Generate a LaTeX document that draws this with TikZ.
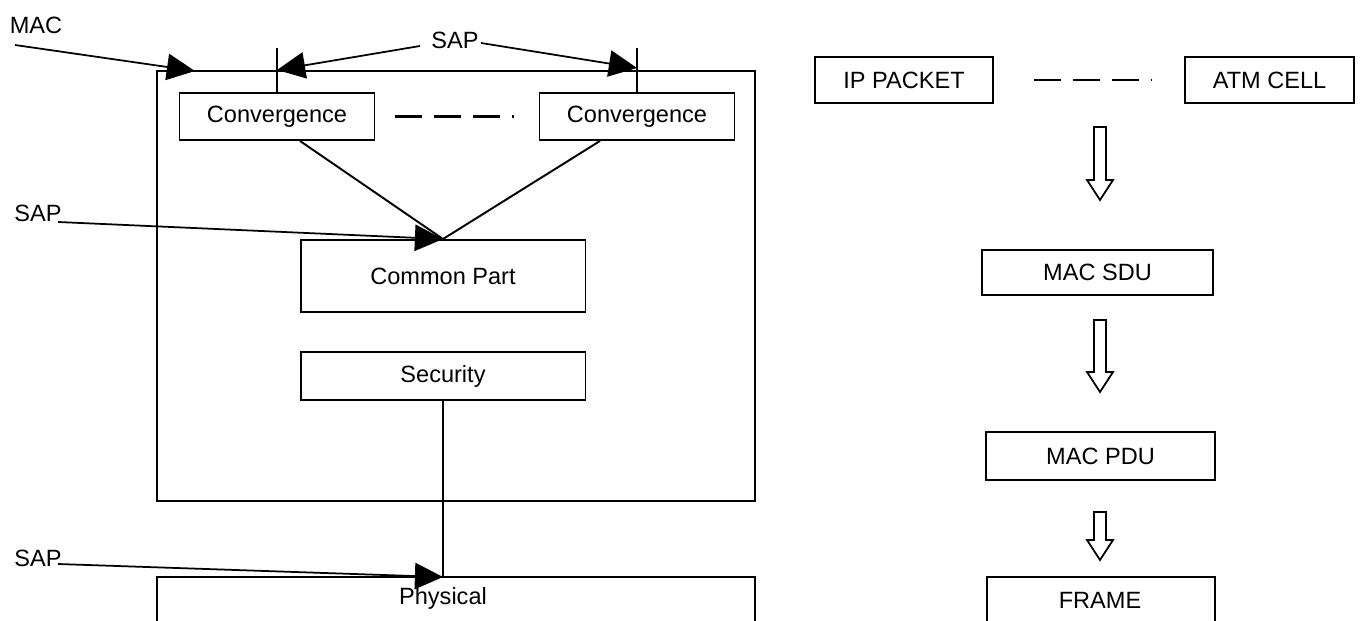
\documentclass[tikz,border=0pt]{standalone}
\usepackage{fontspec}
\setmainfont{Liberation Sans}
\usetikzlibrary{arrows.meta}

\newcommand{\px}{0.02cm}
\newcommand{\hollowarrow}[3]{\draw [line width = 1pt] (#1-6,#2) -- (#1+6,#2) -- (#1+6,#3-20) -- (#1+13,#3-20) -- (#1,#3) -- (#1-13,#3-20) -- (#1-6,#3-20) -- cycle;}

\begin{document}
\begin{tikzpicture}[x = \px, y = -\px, line width = 1.1pt,
  every node/.style = {font = \fontsize{13.4}{16}\selectfont, inner sep = 0pt},
  box/.style = {draw, rectangle},
  saparrow/.style = {line width = 1pt, -{Triangle[length = 16pt, width = 15pt]}},
  gapline/.style = {line width = 1.6pt, dash pattern = on 0.54cm off 0.24cm}]
\useasboundingbox (0,0) rectangle (1361,621);

% MAC layer
\draw (157,71) rectangle (755,501);
\node (mac) at (36,25) {MAC};
\node (sap1) at (455,40) {SAP};
\node (sap2) at (38,213) {SAP};
\node (sap3) at (38,558) {SAP};

\node [box, minimum width = 3.9cm, minimum height = 0.94cm] (c1) at (277,116.5) {Convergence};
\node [box, minimum width = 3.9cm, minimum height = 0.94cm] (c2) at (637,116.5) {Convergence};
\node [box, minimum width = 5.7cm, minimum height = 1.44cm] (cp) at (443,276) {Common Part};
\node [box, minimum width = 5.7cm, minimum height = 0.96cm] (sec) at (443,376) {Security};

\coordinate (t1) at (277,48);
\coordinate (t2) at (637,48);
\draw (t1) -- (c1.north);
\draw (t2) -- (c2.north);
\draw [gapline] ([xshift = 0.4cm]c1.east) -- ([xshift = -0.5cm]c2.west);
\draw ([xshift = 0.46cm]c1.south) -- (cp.north);
\draw ([xshift = -0.74cm]c2.south) -- (cp.north);

% SAP arrows
\coordinate (m0) at (15,45);
\coordinate (m1) at (195,71);
\coordinate (s1) at (420,46);
\coordinate (s2) at (481,43);
\coordinate (a1) at (277,70);
\coordinate (a2) at (637,68);
\coordinate (s3) at (58,222);
\coordinate (s4) at (58,564);
\coordinate (ph) at (443,577);
\draw [saparrow] (m0) -- (m1);
\draw [saparrow] (s1) -- (a1);
\draw [saparrow] (s2) -- (a2);
\draw [saparrow] (s3) -- (cp.north);
\draw (sec.south) -- (ph);
\draw [saparrow] (s4) -- (ph);

% physical layer
\draw (157,625) -- (157,577) -- (755,577) -- (755,625);
\node (phy) at (443,598) {Physical};

% data units
\node [box, minimum width = 3.56cm, minimum height = 0.92cm] (ip) at (904,80) {IP PACKET};
\node [box, minimum width = 3.38cm, minimum height = 0.92cm] (atm) at (1269.5,80) {ATM CELL};
\draw [gapline] ([xshift = 0.8cm]ip.east) -- ([xshift = -0.64cm]atm.west);
\node [box, minimum width = 4.62cm, minimum height = 0.9cm] (sdu) at (1097.5,272.5) {MAC SDU};
\node [box, minimum width = 4.58cm, minimum height = 0.96cm] (pdu) at (1100.5,456) {MAC PDU};
\draw (987,625) -- (987,577) -- (1215,577) -- (1215,625);
\node (frame) at (1100,600) {FRAME};

\hollowarrow{1100}{127}{200}
\hollowarrow{1100}{320}{392}
\hollowarrow{1100}{512}{560}
\end{tikzpicture}
\end{document}
